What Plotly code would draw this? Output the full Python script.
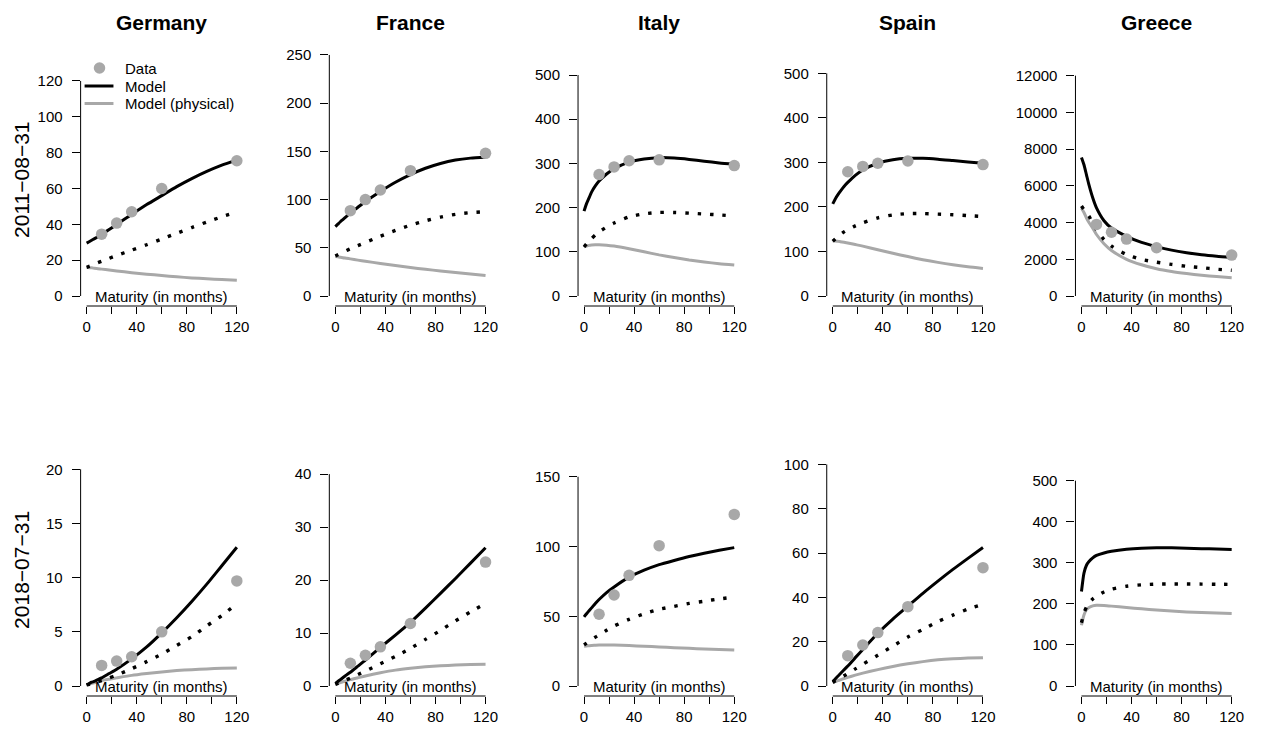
import plotly.graph_objects as go

# ---------------- data ----------------
countries = ["Germany", "France", "Italy", "Spain", "Greece"]
dates = ["2011\u221208\u221231", "2018\u221207\u221231"]
legend_labels = ["Data", "Model", "Model (physical)"]

data_maturities = [12, 24, 36, 60, 120]
curve_maturities = [0, 2, 4, 6, 9, 12, 18, 24, 36, 48, 60, 72, 84, 96, 108, 120]

# 2011-08-31 --------------------------------------------------------
de_2011_data = [34.5, 40.7, 47, 60, 75.5]
de_2011_model = [29.5, 30.3, 31.1, 31.9, 33.1, 34.4, 37.1, 39.9, 45.5, 51, 56, 61, 65.5, 69.5, 73, 76]
de_2011_dotted = [16, 16.5, 17, 17.7, 18.6, 19.4, 21, 22.6, 25.6, 28.6, 31.8, 35, 38.2, 41.3, 44.2, 46.8]
de_2011_phys = [16, 15.8, 15.7, 15.5, 15.2, 15, 14.5, 14, 13, 12.2, 11.4, 10.7, 10.1, 9.6, 9.2, 8.8]

fr_2011_data = [88.5, 100, 110, 130, 148]
fr_2011_model = [72, 74.5, 77, 79.3, 82.7, 86, 92, 98, 108.5, 118, 126, 132.5, 137.5, 141, 143, 144]
fr_2011_dotted = [41.5, 42.8, 44.1, 45.4, 47.2, 49, 52.3, 55.5, 62, 68, 73.5, 78, 81.8, 84.7, 86.5, 87.5]
fr_2011_phys = [41, 40.6, 40.2, 39.7, 39.1, 38.5, 37.2, 36, 33.8, 31.6, 29.6, 27.7, 26, 24.3, 22.7, 21.2]

it_2011_data = [275, 292, 306, 308, 295]
it_2011_model = [192, 209, 222, 235, 249, 260, 276, 288, 303, 310, 313, 312, 309, 305, 301, 298]
it_2011_dotted = [111, 118, 124, 130, 138, 145, 156, 165, 179, 186, 189, 189, 187.5, 185.5, 183.5, 181]
it_2011_phys = [111, 113, 114.5, 115.3, 116, 116, 115, 113, 107, 100, 93, 87, 81.5, 77, 73, 70]

es_2011_data = [279, 291, 298, 303, 295]
es_2011_model = [207, 218, 227, 235, 246, 255, 271, 283, 298, 306, 309, 309, 307, 304, 301, 298]
es_2011_dotted = [123, 128, 133, 138, 144, 149, 157.5, 164.5, 175.5, 182, 185, 185, 183.8, 182.5, 180.5, 178.5]
es_2011_phys = [124, 123.6, 123, 122, 120.5, 119, 115.5, 112, 104, 96, 88.5, 81.5, 75.5, 70, 65.5, 62]

gr_2011_data = [3900, 3470, 3100, 2630, 2230]
gr_2011_model = [7550, 7150, 6600, 6050, 5350, 4800, 4100, 3700, 3250, 2920, 2690, 2500, 2360, 2250, 2170, 2110]
gr_2011_dotted = [4900, 4700, 4500, 4350, 3950, 3600, 3080, 2720, 2260, 1990, 1840, 1720, 1615, 1545, 1460, 1400]
gr_2011_phys = [4780, 4550, 4250, 4000, 3700, 3350, 2850, 2480, 2000, 1700, 1480, 1330, 1220, 1130, 1060, 1000]

# 2018-07-31 --------------------------------------------------------
de_2018_data = [1.9, 2.3, 2.7, 5.0, 9.7]
de_2018_model = [0.1, 0.22, 0.35, 0.42, 0.6, 0.75, 1.15, 1.55, 2.5, 3.6, 4.9, 6.3, 7.8, 9.4, 11.1, 12.8]
de_2018_dotted = [0.1, 0.15, 0.22, 0.3, 0.4, 0.5, 0.75, 1.0, 1.6, 2.25, 2.95, 3.75, 4.55, 5.55, 6.5, 7.6]
de_2018_phys = [0.1, 0.17, 0.24, 0.3, 0.4, 0.5, 0.63, 0.75, 0.98, 1.15, 1.3, 1.42, 1.51, 1.58, 1.63, 1.67]

fr_2018_data = [4.3, 5.8, 7.4, 11.8, 23.4]
fr_2018_model = [0.5, 0.85, 1.2, 1.55, 2.1, 2.6, 3.75, 4.9, 7.3, 9.6, 12.0, 14.7, 17.5, 20.3, 23.2, 26.1]
fr_2018_dotted = [0.3, 0.5, 0.7, 0.9, 1.2, 1.5, 2.15, 2.8, 4.2, 5.6, 7.1, 8.8, 10.5, 12.3, 14.0, 15.6]
fr_2018_phys = [0.3, 0.48, 0.65, 0.8, 1.0, 1.2, 1.55, 1.9, 2.5, 3.0, 3.35, 3.62, 3.82, 3.95, 4.05, 4.1]

it_2018_data = [51.4, 65.2, 79.3, 100.6, 123]
it_2018_model = [49.5, 51.8, 54, 56, 59.2, 62, 67, 71, 78, 83, 87, 90, 92.8, 95.2, 97.3, 99.2]
it_2018_dotted = [29.4, 30.7, 32, 33.3, 35, 36.6, 40, 43, 47.8, 51.8, 55, 57.1, 59.2, 60.8, 62.4, 63.7]
it_2018_phys = [28.5, 28.7, 28.9, 29.1, 29.2, 29.3, 29.3, 29.3, 29.0, 28.5, 28.0, 27.5, 27.0, 26.5, 26.1, 25.8]

es_2018_data = [13.7, 18.5, 24.1, 35.8, 53.4]
es_2018_model = [2, 3.2, 4.4, 5.5, 7.3, 9, 12.8, 16.5, 23.8, 30.2, 36, 41.8, 47.3, 52.6, 57.6, 62.5]
es_2018_dotted = [1.6, 2.3, 3, 3.6, 4.6, 5.6, 7.7, 9.8, 13.9, 18, 22.1, 25.5, 29.1, 32, 34.7, 36.8]
es_2018_phys = [1.6, 2.0, 2.4, 2.8, 3.4, 3.9, 4.9, 5.8, 7.4, 8.8, 10.0, 11.0, 11.8, 12.3, 12.6, 12.8]

gr_2018_data = []
gr_2018_model = [230, 275, 294, 303, 312, 318, 324, 328, 333, 335.5, 336.5, 336.5, 335.5, 334.5, 333.5, 332.5]
gr_2018_dotted = [154, 178, 192, 202, 212, 219, 229, 236, 243, 246.5, 248.2, 248.5, 248.5, 248.2, 247.8, 247.5]
gr_2018_phys = [148, 173, 186, 191, 195, 196.5, 196, 194.5, 191, 188, 185, 182.5, 180.5, 179, 177.5, 176.5]

# y-axis limits and tick layout per panel
ylim_2011 = [139.5, 259.3, 565.6, 561.3, 13618]
ylim_2018 = [23.07, 47.2, 179.2, 112.8, 608.8]
ytop_2011 = [120, 250, 500, 500, 12000]
ystep_2011 = [20, 50, 100, 100, 2000]
ytop_2018 = [20, 40, 150, 100, 500]
ystep_2018 = [5, 10, 50, 20, 100]

x_ticks = [0, 20, 40, 60, 80, 100, 120]
x_ticktext = ["0", "", "40", "", "80", "", "120"]

panels = [
    [(de_2011_data, de_2011_model, de_2011_dotted, de_2011_phys),
     (fr_2011_data, fr_2011_model, fr_2011_dotted, fr_2011_phys),
     (it_2011_data, it_2011_model, it_2011_dotted, it_2011_phys),
     (es_2011_data, es_2011_model, es_2011_dotted, es_2011_phys),
     (gr_2011_data, gr_2011_model, gr_2011_dotted, gr_2011_phys)],
    [(de_2018_data, de_2018_model, de_2018_dotted, de_2018_phys),
     (fr_2018_data, fr_2018_model, fr_2018_dotted, fr_2018_phys),
     (it_2018_data, it_2018_model, it_2018_dotted, it_2018_phys),
     (es_2018_data, es_2018_model, es_2018_dotted, es_2018_phys),
     (gr_2018_data, gr_2018_model, gr_2018_dotted, gr_2018_phys)],
]
ylims = [ylim_2011, ylim_2018]
ytops = [ytop_2011, ytop_2018]
ysteps = [ystep_2011, ystep_2018]

# ---------------- layout geometry ----------------
W, H = 1261, 732
FONT = "Liberation Sans, Arial, Helvetica, sans-serif"
GRAY = "#A8A8A8"
col_left = [81, 330.9, 580.8, 830.7, 1080.6]
col_w = 163
row_px = [(36, 306), (426, 696)]
row_label_y = [180, 570]


def px_x(p):
    return p / W


def px_y(p):
    return 1 - p / H


fig = go.Figure()
layout = dict(
    width=W, height=H,
    margin=dict(l=0, r=0, t=0, b=0),
    paper_bgcolor="white", plot_bgcolor="white",
    font=dict(family=FONT, size=15, color="black"),
    showlegend=False,
)
shapes = []
annotations = []

for r in range(2):
    for c in range(5):
        k = r * 5 + c + 1
        xn = "x" if k == 1 else f"x{k}"
        yn = "y" if k == 1 else f"y{k}"
        xa = "xaxis" if k == 1 else f"xaxis{k}"
        ya = "yaxis" if k == 1 else f"yaxis{k}"
        data, model, dotted, phys = panels[r][c]
        M = ylims[r][c]
        top = ytops[r][c]
        step = ysteps[r][c]
        yt = []
        v = 0
        while v <= top + 1e-9:
            yt.append(v)
            v += step

        fig.add_trace(go.Scatter(
            x=curve_maturities, y=phys, mode="lines", xaxis=xn, yaxis=yn,
            line=dict(color=GRAY, width=3, shape="spline", smoothing=0.6),
            name="Model (physical)", hoverinfo="skip"))
        fig.add_trace(go.Scatter(
            x=curve_maturities, y=dotted, mode="lines", xaxis=xn, yaxis=yn,
            line=dict(color="black", width=3.4, dash="3.4px,9px", shape="spline", smoothing=0.6),
            name="Model (risk-neutral)", hoverinfo="skip"))
        fig.add_trace(go.Scatter(
            x=curve_maturities, y=model, mode="lines", xaxis=xn, yaxis=yn,
            line=dict(color="black", width=3, shape="spline", smoothing=0.6),
            name="Model", hoverinfo="skip"))
        if data:
            fig.add_trace(go.Scatter(
                x=data_maturities, y=data, mode="markers", xaxis=xn, yaxis=yn,
                marker=dict(color=GRAY, size=11.5, line=dict(width=0)),
                name="Data", cliponaxis=False, hoverinfo="skip"))

        x0 = px_x(col_left[c])
        x1 = px_x(col_left[c] + col_w)
        ytop_px, ybot_px = row_px[r]
        layout[xa] = dict(
            domain=[x0, x1], anchor=yn, range=[-4.8, 124.8],
            showgrid=False, zeroline=False, showline=False,
            ticks="outside", ticklen=7, tickwidth=1, tickcolor="black",
            tickvals=x_ticks, ticktext=x_ticktext, ticklabelstandoff=0,
            tickfont=dict(family=FONT, size=15, color="black"), fixedrange=True)
        layout[ya] = dict(
            domain=[px_y(ybot_px), px_y(ytop_px)], anchor=xn,
            range=[-0.04 * M, 1.04 * M],
            showgrid=False, zeroline=False, showline=False,
            ticks="outside", ticklen=8, tickwidth=1, tickcolor="black",
            tickvals=yt, ticktext=[str(t) for t in yt], ticklabelstandoff=6,
            tickfont=dict(family=FONT, size=15, color="black"), fixedrange=True)

        # R-style axis lines spanning first to last tick
        shapes.append(dict(type="line", xref=xn, yref=f"{yn} domain",
                           x0=x_ticks[0], x1=x_ticks[-1], y0=0, y1=0,
                           line=dict(color="black", width=1)))
        shapes.append(dict(type="line", xref=f"{xn} domain", yref=yn,
                           x0=0, x1=0, y0=yt[0], y1=yt[-1],
                           line=dict(color="black", width=1)))

        annotations.append(dict(
            text="Maturity (in months)", xref=xn, yref=yn, x=60, y=0,
            xanchor="center", yanchor="middle", showarrow=False,
            font=dict(family=FONT, size=15, color="black")))

        if r == 0:
            annotations.append(dict(
                text=countries[c], xref=f"{xn} domain", yref="paper",
                x=0.5, y=px_y(22), xanchor="center", yanchor="middle",
                showarrow=False,
                font=dict(family=FONT, size=21, color="black", weight="bold")))
    annotations.append(dict(
        text=dates[r], xref="paper", yref="paper", x=px_x(21), y=px_y(row_label_y[r]),
        xanchor="center", yanchor="middle", textangle=-90, showarrow=False,
        font=dict(family=FONT, size=21, color="black")))

# ---------------- legend (R-style, top-left of the first panel) ----------------
leg_rows_px = [68, 86, 103.5]
leg_sym_x = 100
leg_text_x = 124
# Data: grey dot
shapes.append(dict(type="circle", xref="paper", yref="paper",
                   xsizemode="pixel", ysizemode="pixel",
                   xanchor=px_x(leg_sym_x), yanchor=px_y(leg_rows_px[0]),
                   x0=-5.75, x1=5.75, y0=-5.75, y1=5.75,
                   fillcolor=GRAY, line=dict(width=0)))
# Model / Model (physical): line samples
for i, col in ((1, "black"), (2, GRAY)):
    shapes.append(dict(type="line", xref="paper", yref="paper",
                       x0=px_x(leg_sym_x - 15), x1=px_x(leg_sym_x + 14),
                       y0=px_y(leg_rows_px[i]), y1=px_y(leg_rows_px[i]),
                       line=dict(color=col, width=3)))
for i, lab in enumerate(legend_labels):
    annotations.append(dict(
        text=lab, xref="paper", yref="paper", x=px_x(leg_text_x), y=px_y(leg_rows_px[i]),
        xanchor="left", yanchor="middle", showarrow=False,
        font=dict(family=FONT, size=15, color="black")))

layout["shapes"] = shapes
layout["annotations"] = annotations
fig.update_layout(**layout)

fig.write_html(
    "out.html",
    config={"displayModeBar": False, "staticPlot": False},
    post_script="document.body.style.margin='0';document.body.style.overflow='hidden';",
)
